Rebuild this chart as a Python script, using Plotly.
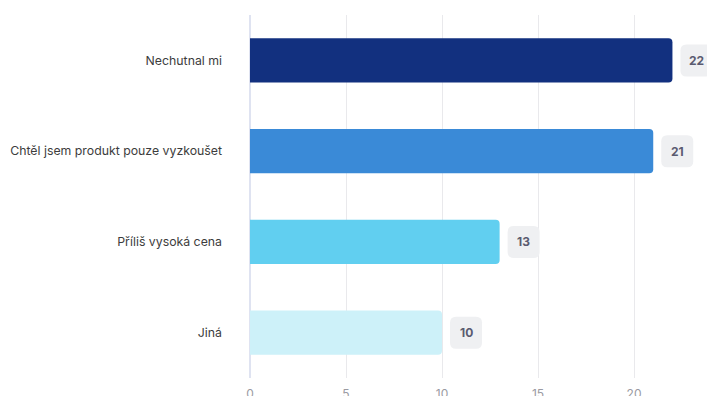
import plotly.graph_objects as go

# Survey answers and counts
categories = ["Nechutnal mi", "Chtěl jsem produkt pouze vyzkoušet", "Příliš vysoká cena", "Jiná"]
counts = [22, 21, 13, 10]
bar_colors = ["#12307f", "#3a8ad7", "#61cff0", "#cdf1f9"]
x_ticks = [0, 5, 10, 15, 20]

fig = go.Figure(
    go.Bar(
        y=categories,
        x=counts,
        orientation="h",
        marker=dict(color=bar_colors, line=dict(width=0)),
        hoverinfo="skip",
    )
)

# Value badges: rounded grey boxes placed a few pixels right of each bar end
box_w, box_h, gap, radius = 32, 32, 8, 6
offset = gap + box_w / 2


def badge_path(cx, w, h, r):
    x0, x1 = cx - w / 2, cx + w / 2
    y0, y1 = -h / 2, h / 2
    return (
        f"M{x0 + r},{y0} L{x1 - r},{y0} Q{x1},{y0} {x1},{y0 + r} "
        f"L{x1},{y1 - r} Q{x1},{y1} {x1 - r},{y1} "
        f"L{x0 + r},{y1} Q{x0},{y1} {x0},{y1 - r} "
        f"L{x0},{y0 + r} Q{x0},{y0} {x0 + r},{y0} Z"
    )


shapes = []
annotations = []
for cat, val in zip(categories, counts):
    shapes.append(
        dict(
            type="path",
            xref="x", yref="y",
            xsizemode="pixel", ysizemode="pixel",
            xanchor=val, yanchor=cat,
            path=badge_path(offset, box_w, box_h, radius),
            fillcolor="#eff0f2",
            line=dict(width=0),
            layer="above",
        )
    )
    annotations.append(
        dict(
            x=val, y=cat, xref="x", yref="y",
            text=f"<b>{val}</b>",
            showarrow=False,
            xshift=offset,
            font=dict(family="Inter, sans-serif", size=12, color="#5a5b70"),
        )
    )

fig.update_layout(
    width=707,
    height=396,
    margin=dict(l=250, r=0, t=15, b=18, autoexpand=False),
    paper_bgcolor="white",
    plot_bgcolor="white",
    bargap=0.515,
    showlegend=False,
    barcornerradius=4,
    font=dict(family="Inter, sans-serif", size=12.3, color="#3d3d3d"),
    xaxis=dict(
        range=[0, 23.8],
        tickvals=x_ticks,
        showgrid=True,
        gridcolor="#e9e9ec",
        gridwidth=1,
        zeroline=True,
        zerolinecolor="#dfe3f1",
        zerolinewidth=2,
        showline=False,
        automargin=False,
        ticklabelstandoff=7,
        tickfont=dict(size=12, color="#9a9aa2"),
        fixedrange=True,
    ),
    yaxis=dict(
        categoryorder="array",
        categoryarray=categories,
        autorange="reversed",
        showgrid=False,
        zeroline=False,
        showline=False,
        automargin=False,
        ticklabelstandoff=27,
        tickfont=dict(size=12.3, color="#3d3d3d"),
        fixedrange=True,
    ),
    shapes=shapes,
    annotations=annotations,
)

fig.write_html("out.html")
